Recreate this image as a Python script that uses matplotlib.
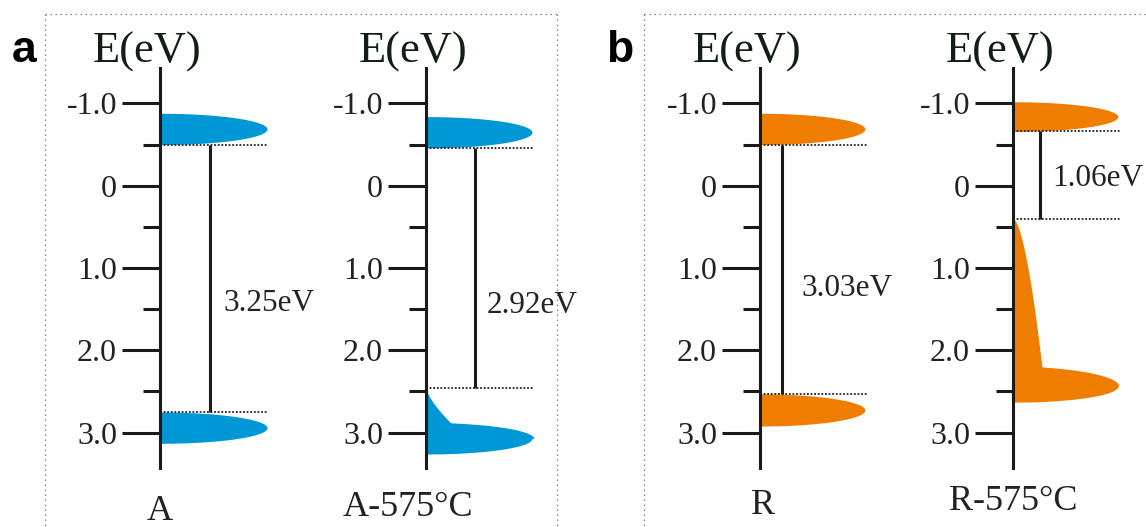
import numpy as np
import matplotlib.pyplot as plt
from matplotlib.lines import Line2D

# ---------------------- Band data (eV) ----------------------
names = ["A", "A-575°C", "R", "R-575°C"]
gap_ev = [3.25, 2.92, 3.03, 1.06]
cb_edge = [-0.50, -0.46, -0.50, -0.66]
cb_top = [-0.88, -0.84, -0.88, -1.02]
vb_lobe_top = [2.75, 2.88, 2.53, 2.20]
vb_peak = [2.94, 3.07, 2.725, 2.435]
vb_lobe_bottom = [3.13, 3.26, 2.92, 2.63]
vb_tail_width = [0.0, 0.23, 0.0, 0.27]
vb_tail_power = [0.0, 1.4, 0.0, 0.6]
lobe_width = [1.0, 0.99, 0.98, 0.98]

major_ticks = [-1.0, 0.0, 1.0, 2.0, 3.0]
major_labels = ["-1.0", "0", "1.0", "2.0", "3.0"]
minor_ticks = [-0.5, 0.5, 1.5, 2.5]

# ---------------------- Layout ----------------------
W, H = 1146, 527
DPI = 100
axis_px = [160, 426, 760, 1013]
gap_line_x = [0.47, 0.46, 0.21, 0.25]
gap_label_xy = [(0.59, 1.43), (0.57, 1.45), (0.39, 1.25), (0.365, -0.09)]
name_px = [(160, 512), (408, 507), (763, 505), (1013, 501)]
band_colors = ["#0097d7", "#0097d7", "#ef7d00", "#ef7d00"]
ink = "#1a1a1a"
serif = "Liberation Serif"

PX_PER_UNIT = 107.0
AX_W_PX = 140
AX_TOP_PX, AX_BOT_PX = 68, 468
E_TOP, E_BOT = -1.43, 3.43


def px2pt(v):
    return v * 72.0 / DPI


def lobe(E, top, peak, bottom, width):
    # half-ellipse lobe, allowed different half-heights above/below the peak
    h = np.where(E <= peak, peak - top, bottom - peak)
    u = 1.0 - ((E - peak) / h) ** 2
    return width * np.sqrt(np.clip(u, 0, None))


def band_tail(E, edge, top, peak, tail_w, power):
    frac = np.clip((E - edge) / (top - edge), 0, None)
    return np.where(E <= peak, tail_w * frac ** power, 0.0)


fig = plt.figure(figsize=(W / DPI, H / DPI), dpi=DPI)

# dotted panel frames
frame_kw = dict(color="#808080", lw=0.9, ls=(0, (1.2, 2.8)), transform=fig.transFigure)
for x0, x1 in [(45, 557), (644, 1160)]:
    y0 = 1 - 14 / H
    fig.add_artist(Line2D([x0 / W, x1 / W], [y0, y0], **frame_kw))
    fig.add_artist(Line2D([x0 / W, x0 / W], [y0, -0.05], **frame_kw))
    if x1 < W:
        fig.add_artist(Line2D([x1 / W, x1 / W], [y0, -0.05], **frame_kw))

fig.text(12 / W, 1 - 62 / H, "a", fontsize=32, fontweight="bold",
         family="Liberation Sans", ha="left", va="baseline")
fig.text(606 / W, 1 - 62 / H, "b", fontsize=32, fontweight="bold",
         family="Liberation Sans", ha="left", va="baseline")

for i, name in enumerate(names):
    ax = fig.add_axes([axis_px[i] / W, 1 - AX_BOT_PX / H,
                       AX_W_PX / W, (AX_BOT_PX - AX_TOP_PX) / H])
    ax.set_xlim(0, AX_W_PX / PX_PER_UNIT)
    ax.set_ylim(E_BOT, E_TOP)
    ax.patch.set_alpha(0)
    for s in ["top", "right", "bottom"]:
        ax.spines[s].set_visible(False)
    ax.spines["left"].set_linewidth(2.2)
    ax.spines["left"].set_color(ink)
    ax.set_xticks([])
    ax.set_yticks(major_ticks)
    ax.set_yticklabels(major_labels)
    ax.set_yticks(minor_ticks, minor=True)
    ax.tick_params(axis="y", which="major", length=px2pt(38), width=2.2,
                   color=ink, pad=px2pt(5), labelsize=23, labelcolor="#222222")
    ax.tick_params(axis="y", which="minor", length=px2pt(17), width=2.2, color=ink)
    for lab in ax.get_yticklabels():
        lab.set_family(serif)

    col = band_colors[i]
    vb_edge = cb_edge[i] + gap_ev[i]

    # conduction band lobe
    Ec = np.linspace(cb_top[i], cb_edge[i], 300)
    cb_mid = 0.5 * (cb_top[i] + cb_edge[i])
    ax.fill_betweenx(Ec, 0, lobe(Ec, cb_top[i], cb_mid, cb_edge[i], lobe_width[i]),
                     color=col, lw=0, zorder=1)

    # valence band lobe, plus a tail up to the band edge when present
    Ev = np.linspace(vb_edge, vb_lobe_bottom[i], 800)
    wv = lobe(Ev, vb_lobe_top[i], vb_peak[i], vb_lobe_bottom[i], lobe_width[i])
    if vb_tail_width[i] > 0:
        tail = band_tail(Ev, vb_edge, vb_lobe_top[i], vb_peak[i],
                         vb_tail_width[i], vb_tail_power[i])
        wv = (wv ** 3 + tail ** 3) ** (1 / 3)
    ax.fill_betweenx(Ev, 0, wv, color=col, lw=0, zorder=1)

    # band edges and gap
    dot_kw = dict(color="#222222", lw=1.3, ls=(0, (1, 1)), clip_on=False, zorder=2)
    ax.plot([0, 1.01], [cb_edge[i], cb_edge[i]], **dot_kw)
    ax.plot([0, 1.01], [vb_edge, vb_edge], **dot_kw)
    ax.plot([gap_line_x[i], gap_line_x[i]], [cb_edge[i], vb_edge],
            color=ink, lw=2.2, solid_capstyle="butt", zorder=3)
    gx, gy = gap_label_xy[i]
    ax.text(gx, gy, f"{gap_ev[i]:.2f}eV", fontsize=22.5, family=serif,
            color="#222222", ha="left", va="center", clip_on=False)

    fig.text((axis_px[i] - 13) / W, 1 - 63 / H, "E(eV)", fontsize=32,
             family=serif, color="#0f1f12", ha="center", va="baseline")
    nx, ny = name_px[i]
    fig.text(nx / W, 1 - ny / H, name, fontsize=26, family=serif,
             color="#222222", ha="center", va="center")

fig.savefig("out.png", dpi=DPI)
